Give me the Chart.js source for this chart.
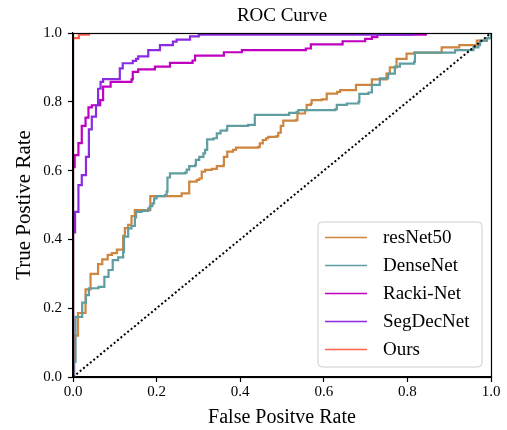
<!DOCTYPE html>
<html>
<head>
<meta charset="utf-8">
<script src="https://cdn.jsdelivr.net/npm/chart.js@4.4.1/dist/chart.umd.min.js"></script>
<style>
  html, body { margin: 0; padding: 0; background: #fff; }
  #wrap { width: 507px; height: 430px; }
</style>
</head>
<body>
<div id="wrap"><canvas id="roc-chart" width="507" height="430"></canvas></div>
<script>
const ticks = [0.0, 0.2, 0.4, 0.6, 0.8, 1.0];

const resnetFpr = [0, 0.003, 0.005, 0.012, 0.03, 0.042, 0.06, 0.07, 0.083, 0.093, 0.105, 0.12, 0.124, 0.132, 0.14, 0.148, 0.185, 0.26, 0.278, 0.296, 0.302, 0.308, 0.316, 0.332, 0.344, 0.36, 0.361, 0.369, 0.383, 0.39, 0.443, 0.447, 0.454, 0.462, 0.467, 0.487, 0.491, 0.497, 0.503, 0.533, 0.537, 0.555, 0.559, 0.569, 0.571, 0.595, 0.607, 0.632, 0.639, 0.677, 0.715, 0.75, 0.758, 0.774, 0.798, 0.816, 0.882, 0.924, 0.966, 0.99, 1.0];
const resnetTpr = [0, 0.05, 0.12, 0.186, 0.255, 0.3, 0.328, 0.342, 0.355, 0.36, 0.37, 0.41, 0.433, 0.442, 0.468, 0.485, 0.526, 0.534, 0.568, 0.573, 0.577, 0.597, 0.602, 0.605, 0.613, 0.616, 0.64, 0.655, 0.66, 0.667, 0.669, 0.679, 0.689, 0.694, 0.698, 0.7, 0.71, 0.73, 0.745, 0.747, 0.766, 0.776, 0.791, 0.795, 0.805, 0.807, 0.824, 0.829, 0.834, 0.849, 0.865, 0.882, 0.9, 0.925, 0.94, 0.943, 0.958, 0.965, 0.978, 0.985, 1.0];

const denseFpr = [0, 0.002, 0.006, 0.022, 0.031, 0.038, 0.061, 0.075, 0.085, 0.095, 0.108, 0.12, 0.122, 0.132, 0.14, 0.148, 0.151, 0.164, 0.18, 0.184, 0.19, 0.194, 0.2, 0.22, 0.224, 0.226, 0.232, 0.268, 0.272, 0.278, 0.292, 0.294, 0.302, 0.312, 0.316, 0.321, 0.336, 0.344, 0.353, 0.368, 0.369, 0.419, 0.435, 0.435, 0.517, 0.535, 0.539, 0.627, 0.631, 0.655, 0.683, 0.685, 0.707, 0.715, 0.734, 0.754, 0.77, 0.782, 0.816, 0.818, 0.914, 0.958, 0.97, 0.974, 0.99, 1.0];
const denseTpr = [0, 0.044, 0.175, 0.216, 0.238, 0.258, 0.262, 0.291, 0.311, 0.34, 0.348, 0.364, 0.408, 0.432, 0.439, 0.464, 0.48, 0.483, 0.49, 0.497, 0.505, 0.519, 0.526, 0.529, 0.539, 0.58, 0.592, 0.594, 0.603, 0.613, 0.616, 0.631, 0.64, 0.65, 0.66, 0.691, 0.694, 0.708, 0.716, 0.72, 0.73, 0.733, 0.739, 0.762, 0.768, 0.771, 0.776, 0.778, 0.791, 0.795, 0.8, 0.823, 0.827, 0.849, 0.868, 0.882, 0.902, 0.911, 0.916, 0.943, 0.95, 0.958, 0.965, 0.978, 0.985, 1.0];

const rackiFpr = [0, 0, 0.004, 0.013, 0.021, 0.03, 0.037, 0.045, 0.065, 0.072, 0.09, 0.14, 0.143, 0.156, 0.196, 0.232, 0.286, 0.292, 0.361, 0.404, 0.557, 0.569, 0.645, 0.699, 0.715, 0.728, 0.844, 1.0];
const rackiTpr = [0, 0.61, 0.645, 0.68, 0.73, 0.754, 0.784, 0.79, 0.805, 0.844, 0.858, 0.865, 0.887, 0.894, 0.902, 0.913, 0.92, 0.934, 0.944, 0.95, 0.955, 0.967, 0.976, 0.983, 0.988, 0.995, 1.0, 1.0];

const segdecFpr = [0, 0, 0.005, 0.013, 0.021, 0.031, 0.038, 0.045, 0.055, 0.06, 0.066, 0.072, 0.112, 0.119, 0.143, 0.151, 0.156, 0.18, 0.208, 0.239, 0.248, 0.28, 0.301, 0.813, 1.0];
const segdecTpr = [0, 0.42, 0.48, 0.558, 0.587, 0.64, 0.72, 0.757, 0.79, 0.838, 0.858, 0.866, 0.897, 0.912, 0.919, 0.925, 0.932, 0.95, 0.965, 0.975, 0.981, 0.99, 0.995, 1.0, 1.0];

const oursFpr = [0, 0, 0.014, 0.038, 1.0];
const oursTpr = [0, 0.985, 0.995, 1.0, 1.0];

const chanceFpr = [0, 1];
const chanceTpr = [0, 1];

const FONT = "'Liberation Serif', 'Times New Roman', 'DejaVu Serif', serif";

const toPoints = (xs, ys) => xs.map((x, i) => ({ x, y: ys[i] }));

const curve = (label, color, xs, ys, order) => ({
  label,
  data: toPoints(xs, ys),
  borderColor: color,
  backgroundColor: color,
  borderWidth: 2.2,
  pointRadius: 0,
  showLine: true,
  stepped: "before",
  fill: false,
  order,
});

// spines, title and the legend box in the lower right
const framePlugin = {
  id: "frame",
  afterDraw(chart) {
    const { ctx, chartArea: a } = chart;
    ctx.save();
    ctx.strokeStyle = "#000";
    ctx.lineWidth = 1.2;
    ctx.strokeRect(a.left + 0.5, a.top + 0.5, a.right - a.left, a.bottom - a.top);

    ctx.fillStyle = "#000";
    ctx.font = "19px " + FONT;
    ctx.textAlign = "center";
    ctx.textBaseline = "alphabetic";
    ctx.fillText("ROC Curve", (a.left + a.right) / 2, 21);

    const bx = 318, by = 222, bw = 164, bh = 145, r = 4;
    ctx.beginPath();
    ctx.moveTo(bx + r, by);
    ctx.arcTo(bx + bw, by, bx + bw, by + bh, r);
    ctx.arcTo(bx + bw, by + bh, bx, by + bh, r);
    ctx.arcTo(bx, by + bh, bx, by, r);
    ctx.arcTo(bx, by, bx + bw, by, r);
    ctx.closePath();
    ctx.fillStyle = "rgba(255,255,255,0.8)";
    ctx.fill();
    ctx.strokeStyle = "#cccccc";
    ctx.lineWidth = 1;
    ctx.stroke();

    const items = chart.data.datasets.filter((d) => d.label);
    ctx.font = "19px " + FONT;
    ctx.textAlign = "left";
    ctx.textBaseline = "middle";
    items.forEach((d, i) => {
      const y = 237.5 + i * 28;
      ctx.strokeStyle = d.borderColor;
      ctx.lineWidth = 1.5;
      ctx.beginPath();
      ctx.moveTo(325, y);
      ctx.lineTo(367, y);
      ctx.stroke();
      ctx.fillStyle = "#000";
      ctx.fillText(d.label, 383, y + 1);
    });
    ctx.restore();
  },
};

const axis = (titleText, extra) => ({
  type: "linear",
  min: 0,
  max: 1,
  grid: {
    drawOnChartArea: false,
    drawTicks: true,
    tickLength: 5,
    tickColor: "#000",
    tickWidth: 1.2,
  },
  border: { display: true, color: "#000", width: 1.2 },
  ticks: {
    stepSize: 0.2,
    color: "#000",
    padding: 1,
    font: { size: 15, family: FONT },
    callback: (v) => v.toFixed(1),
  },
  title: {
    display: true,
    text: titleText,
    color: "#000",
    font: { size: 20, family: FONT },
  },
  ...extra,
});

const xAxis = axis("False Positve Rate", {
  afterFit: (s) => { s.height = 53; },
});
xAxis.title.padding = { top: 0, bottom: 0 };
xAxis.afterBuildTicks = (s) => { s.ticks = ticks.map((v) => ({ value: v })); };

const yAxis = axis("True Postive Rate", {
  afterFit: (s) => { s.width = 73; },
});
yAxis.ticks.padding = 6;
yAxis.title.padding = { top: 12, bottom: 0 };
yAxis.title.font = { size: 21, family: FONT };
yAxis.afterBuildTicks = (s) => { s.ticks = ticks.map((v) => ({ value: v })); };

new Chart(document.getElementById("roc-chart"), {
  type: "scatter",
  data: {
    datasets: [
      curve("resNet50", "#CD853F", resnetFpr, resnetTpr, 5),
      curve("DenseNet", "#5F9EA0", denseFpr, denseTpr, 4),
      curve("Racki-Net", "#BF00BF", rackiFpr, rackiTpr, 3),
      curve("SegDecNet", "#8A2BE2", segdecFpr, segdecTpr, 2),
      curve("Ours", "#FF6347", oursFpr, oursTpr, 1),
      {
        label: "",
        data: toPoints(chanceFpr, chanceTpr),
        borderColor: "#000",
        borderWidth: 2,
        borderDash: [2, 2.4],
        pointRadius: 0,
        showLine: true,
        fill: false,
        order: 0,
      },
    ],
  },
  options: {
    responsive: false,
    animation: false,
    layout: { padding: { left: 0, right: 16, top: 33, bottom: 0 } },
    plugins: {
      legend: { display: false },
      title: { display: false },
      tooltip: { enabled: false },
    },
    scales: { x: xAxis, y: yAxis },
  },
  plugins: [framePlugin],
});
</script>
</body>
</html>
